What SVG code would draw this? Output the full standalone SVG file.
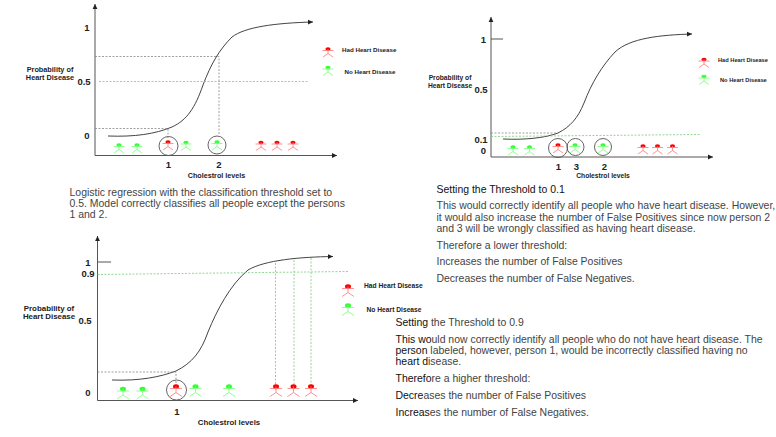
<svg xmlns="http://www.w3.org/2000/svg" width="776" height="437" viewBox="0 0 776 437">
<style>
text{font-family:"Liberation Sans",Arial,sans-serif}
.ax{fill:none;stroke:#555;stroke-width:1}
.cv{fill:none;stroke:#444;stroke-width:1}
.gd{fill:none;stroke:#7c7;stroke-width:.8;stroke-dasharray:2 1.5}
.kd{fill:none;stroke:#888;stroke-width:.8;stroke-dasharray:2 1.5}
.ci{fill:none;stroke:#555;stroke-width:.9}
.tk{font-weight:bold;font-size:9.500px;fill:#222;text-anchor:middle}
.yl{font-weight:bold;fill:#222;text-anchor:middle}
.lg{font-weight:bold;fill:#222}
.xl{font-weight:bold;fill:#222;text-anchor:middle}
.p{font-size:10.460px;fill:#444}
.d{fill:#111}
.r{stroke:#f77;fill:none;stroke-width:.8}
.g{stroke:#7f7;fill:none;stroke-width:.8}
</style>
<defs>
<marker id="ah" markerUnits="userSpaceOnUse" markerWidth="6" markerHeight="6" refX="5" refY="3" orient="auto"><path d="M0,.6L5,3L0,5.400z" fill="#222"/></marker>
<g id="red"><ellipse cx="0" cy="0" rx="2.600" ry="1.800" fill="#f00"/><path class="r" d="M-5.500,1.500H5.500M0,0V4.500L-5,8M0,4.500L5,8"/></g>
<g id="green"><ellipse cx="0" cy="0" rx="2.600" ry="1.800" fill="#3f3"/><path class="g" d="M-5.500,1.500H5.500M0,0V4.500L-5,8M0,4.500L5,8"/></g>
<g id="redL"><ellipse cx="0" cy="0" rx="3" ry="2.200" fill="#f00"/><path class="r" d="M-6,2H6M0,0V6L-6,10M0,6L6,10"/></g>
<g id="greenL"><ellipse cx="0" cy="0" rx="3" ry="2.200" fill="#3f3"/><path class="g" d="M-6,2H6M0,0V6L-6,10M0,6L6,10"/></g>
</defs>

<g id="connectors">
<path class="ax" d="M95,155.500V4" marker-end="url(#ah)"/>
<path class="ax" d="M95,155.500H337" marker-end="url(#ah)"/>
<path class="cv" d="M108,136C135,137 155,134 172,127C187,120 195,108 203,85C211,64 219,50 232,37C245,27 275,23 313,22" marker-end="url(#ah)"/>
<path class="kd" d="M95,128.500H168V138M95,56.500H219V134"/>
<path class="gd" d="M99,81.500H308"/>

<path class="ax" d="M491,157V17" marker-end="url(#ah)"/>
<path class="ax" d="M491,157H713" marker-end="url(#ah)"/>
<path class="ax" d="M491,39H503"/>
<path class="cv" d="M503,139C525,140 545,138 558,133C570,127 578,118 584,103C592,82 602,66 615,52C630,38 660,35 692,34" marker-end="url(#ah)"/>
<path class="kd" d="M491,133H557"/>
<path class="gd" d="M491,136.500L701,134.500"/>

<path class="ax" d="M97.500,400.500V236" marker-end="url(#ah)"/>
<path class="ax" d="M97.500,400.500H358" marker-end="url(#ah)"/>
<path class="ax" d="M97.500,262H111"/>
<path class="cv" d="M112,380C140,381 160,377 176,371C192,363 201,352 208,332C217,310 230,285 248,270C265,260 300,257 333,256.500" marker-end="url(#ah)"/>
<path class="gd" d="M97.500,274.500L348,271.500"/>
<path class="kd" d="M97.500,372H176V385"/>
<path class="gd" d="M275.500,263V390M294,260V390M311,258V390"/>
</g>

<g id="chart1">
<text class="tk" x="87" y="31">1</text><text class="tk" x="84" y="85">0.5</text><text class="tk" x="87" y="139">0</text>
<text class="yl" font-size="7.300" x="50" y="72">Probability of</text><text class="yl" font-size="7.300" x="50" y="79.500">Heart Disease</text>
<text class="tk" x="168.500" y="168">1</text><text class="tk" x="219" y="168">2</text>
<text class="xl" font-size="7.200" x="216.500" y="178">Cholestrol levels</text>
<text class="lg" font-size="6.200" x="342" y="52">Had Heart Disease</text><text class="lg" font-size="6.200" x="344.500" y="74">No Heart Disease</text>
<use href="#red" x="328" y="49"/><use href="#green" x="328" y="67.500"/>
<use href="#green" x="119" y="145"/><use href="#green" x="137" y="145"/>
<use href="#red" x="168" y="142"/><use href="#green" x="186" y="142.500"/>
<use href="#green" x="217" y="142"/>
<use href="#red" x="261" y="142.500"/><use href="#red" x="277" y="142.500"/><use href="#red" x="293" y="142.500"/>
<circle class="ci" cx="168.500" cy="146" r="9.500"/><circle class="ci" cx="217" cy="145" r="9"/>
</g>

<g id="chart2">
<text class="tk" x="483.500" y="43">1</text><text class="tk" x="481" y="93">0.5</text><text class="tk" x="481" y="143">0.1</text><text class="tk" x="483.500" y="154">0</text>
<text class="yl" font-size="6.700" x="450" y="80">Probability of</text><text class="yl" font-size="6.700" x="450" y="87.500">Heart Disease</text>
<text class="tk" x="558.500" y="170">1</text><text class="tk" x="576.500" y="170">3</text><text class="tk" x="604.500" y="170">2</text>
<text class="xl" font-size="6.700" x="603" y="178">Cholestrol levels</text>
<text class="lg" font-size="5.700" x="718" y="62">Had Heart Disease</text><text class="lg" font-size="5.700" x="720" y="82">No Heart Disease</text>
<use href="#red" x="704" y="59.500"/><use href="#green" x="704" y="76.500"/>
<use href="#green" x="513" y="147"/><use href="#green" x="529.500" y="147"/>
<use href="#red" x="558" y="145"/><use href="#green" x="575" y="145"/><use href="#green" x="603" y="145"/>
<use href="#red" x="643" y="146"/><use href="#red" x="657.500" y="146"/><use href="#red" x="672.500" y="146"/>
<circle class="ci" cx="558" cy="148" r="9.500"/><circle class="ci" cx="575.500" cy="147" r="8.500"/><circle class="ci" cx="603" cy="147" r="8.500"/>
</g>

<g id="chart3">
<text class="tk" x="88" y="266">1</text><text class="tk" x="88" y="276.500">0.9</text><text class="tk" x="85" y="324">0.5</text><text class="tk" x="88" y="396">0</text>
<text class="yl" font-size="7.900" x="49" y="310.500">Probability of</text><text class="yl" font-size="7.900" x="49" y="319">Heart Disease</text>
<text class="tk" x="177" y="415">1</text>
<text class="xl" font-size="7.800" x="229" y="425">Cholestrol levels</text>
<text class="lg" font-size="6.700" x="364" y="288">Had Heart Disease</text><text class="lg" font-size="6.700" x="366.500" y="312">No Heart Disease</text>
<use href="#redL" x="348" y="286.500"/><use href="#greenL" x="348" y="305.500"/>
<use href="#greenL" x="123" y="389"/><use href="#greenL" x="142.500" y="389"/>
<use href="#redL" x="176" y="386.500"/><use href="#greenL" x="195.500" y="386.500"/><use href="#greenL" x="229" y="386.500"/>
<use href="#redL" x="276" y="386.500"/><use href="#redL" x="293.500" y="386.500"/><use href="#redL" x="311" y="386.500"/>
<circle class="ci" cx="176.500" cy="390" r="10"/>
</g>

<g id="caption1">
<text class="p" x="69.500" y="196">Logistic regression with the classification threshold set to</text>
<text class="p" x="69.500" y="207">0.5. Model correctly classifies all people except the persons</text>
<text class="p" x="69.500" y="218">1 and 2.</text>
</g>
<g id="caption2">
<text class="p" x="436.500" y="193" style="fill:#111">Setting the Threshold to 0.1</text>
<text class="p" x="436.500" y="209">This would correctly identify all people who have heart disease. However,</text>
<text class="p" x="436.500" y="221">it would also increase the number of False Positives since now person 2</text>
<text class="p" x="436.500" y="232">and 3 will be wrongly classified as having heart disease.</text>
<text class="p" x="436.500" y="249">Therefore a lower threshold:</text>
<text class="p" x="436.500" y="265">Increases the number of False Positives</text>
<text class="p" x="436.500" y="282">Decreases the number of False Negatives.</text>
</g>
<g id="caption3">
<text class="p" x="395.500" y="326"><tspan class="d">Setting</tspan> the Threshold to 0.9</text>
<text class="p" x="395.500" y="343"><tspan class="d">This wo</tspan>uld now correctly identify all people who do not have heart disease. The</text>
<text class="p" x="395.500" y="354"><tspan class="d">person</tspan> labeled, however, person 1, would be incorrectly classified having no</text>
<text class="p" x="395.500" y="365"><tspan class="d">heart d</tspan>isease.</text>
<text class="p" x="395.500" y="382"><tspan class="d">Therefo</tspan>re a higher threshold:</text>
<text class="p" x="395.500" y="399"><tspan class="d">Decre</tspan>ases the number of False Positives</text>
<text class="p" x="395.500" y="416"><tspan class="d">Increas</tspan>es the number of False Negatives.</text>
</g>
</svg>
